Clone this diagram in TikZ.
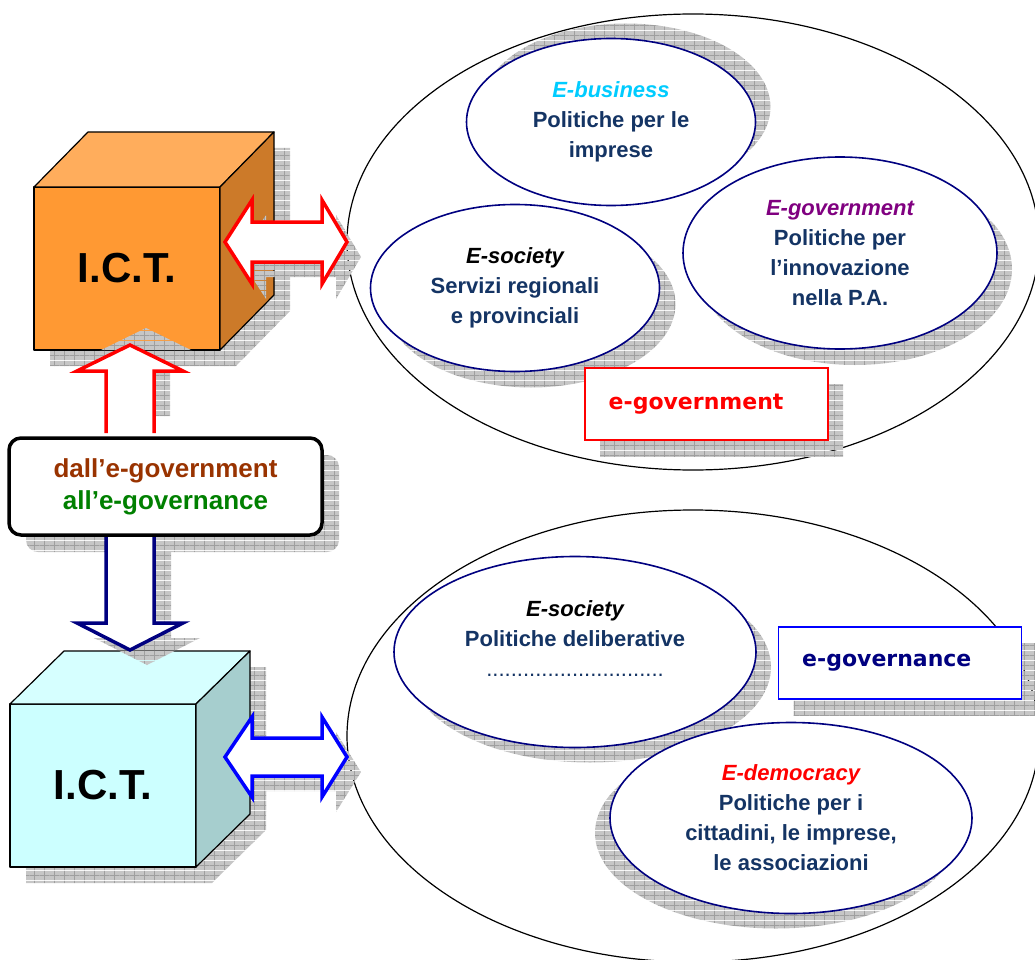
\documentclass[tikz,border=0pt]{standalone}
\usepackage{fontspec}
\setmainfont{Liberation Sans}
\newfontfamily\tagfont{DejaVu Sans}
\usetikzlibrary{shapes.geometric,shadows,patterns.meta}

\definecolor{ictorange}{RGB}{255,153,51}
\definecolor{ictorangetop}{RGB}{255,173,92}
\definecolor{ictorangeside}{RGB}{204,122,41}
\definecolor{ictcyan}{RGB}{204,255,255}
\definecolor{ictcyantop}{RGB}{214,255,255}
\definecolor{ictcyanside}{RGB}{166,206,206}
\definecolor{navy}{RGB}{0,0,128}
\definecolor{policyblue}{RGB}{20,52,100}
\definecolor{bizcyan}{RGB}{0,204,255}
\definecolor{govpurple}{RGB}{128,0,128}
\definecolor{govbrown}{RGB}{153,51,0}
\definecolor{govgreen}{RGB}{0,128,0}

\tikzdeclarepattern{
  name=shadowgrid,
  type=colored,
  bounding box={(0pt,0pt) and (10pt,10pt)},
  tile size={(10pt,10pt)},
  code={
    \fill[gray!45] (0pt,0pt) rectangle (10pt,10pt);
    \draw[gray!75, line width=0.8pt] (0pt,5pt) -- (10pt,5pt) (5pt,0pt) -- (5pt,10pt);
  }
}

\tikzset{
  gridshadow/.style 2 args={drop shadow={shadow xshift=#1, shadow yshift=#2, opacity=1, draw=none, pattern=shadowgrid}},
  cubeline/.style={draw, line width=1.2pt, line join=round},
  cubeface/.style={cubeline, rectangle, outer sep=0pt, minimum width=186pt, minimum height=163pt,
    font=\fontsize{42}{42}\selectfont\bfseries},
  area/.style={ellipse, draw, line width=1.2pt, outer sep=0pt, minimum width=692pt},
  policy/.style={ellipse, draw=navy, line width=1.6pt, fill=white, inner sep=0pt, align=center,
    text=policyblue, font=\fontsize{22}{30}\selectfont\bfseries},
  tagbox/.style={rectangle, line width=1.6pt, fill=white, minimum width=243pt, minimum height=72pt},
  tagtext/.style={anchor=west, font=\tagfont\fontsize{22}{26}\selectfont\bfseries},
  blockarrow/.style={line width=3.5pt, fill=white, line join=miter}
}

\begin{document}
\begin{tikzpicture}[x=1pt, y=-1pt]
  \useasboundingbox (0,0) rectangle (1035,960);
  \clip (0,0) rectangle (1035,960);

  % the two areas
  \node[area, minimum height=456pt] (govarea) at (693,242) {};
  \node[area, minimum height=452pt] (gvnarea) at (693,736) {};

  % e-government area
  \node[policy, minimum width=289pt, minimum height=167pt, gridshadow={15pt}{15pt}] (ebiz) at (611,122)
    {\textcolor{bizcyan}{\itshape E-business}\\ Politiche per le\\ imprese};
  \node[policy, minimum width=289pt, minimum height=167pt, gridshadow={16pt}{-16pt}] (esoc) at (515,288)
    {\textcolor{black}{\itshape E-society}\\ Servizi regionali\\ e provinciali};
  \node[policy, minimum width=314pt, minimum height=192pt, gridshadow={15pt}{-16pt}] (egovp) at (840,253)
    {\textcolor{govpurple}{\itshape E-government}\\ Politiche per\\ l'innovazione\\ nella P.A.};
  \node[tagbox, draw=red, gridshadow={15pt}{-16pt}] (egov) at (706.5,404) {};
  \node[tagtext, text=red] at ([xshift=21pt]egov.west) {e-government};

  % e-governance area
  \node[policy, minimum width=362pt, minimum height=191pt, gridshadow={15pt}{-15pt}] (esoc2) at (575,652)
    {\textcolor{black}{\itshape E-society}\\ Politiche deliberative\\ {\mdseries .............................}\\[-4pt] ~};
  \node[policy, minimum width=362pt, minimum height=191pt, gridshadow={-15pt}{-15pt}] (edem) at (791,818)
    {\textcolor{red}{\itshape E-democracy}\\ Politiche per i\\ cittadini, le imprese,\\ le associazioni};
  \node[tagbox, draw=blue, gridshadow={15pt}{-16pt}] (egovn) at (900,663) {};
  \node[tagtext, text=navy] at ([xshift=21pt]egovn.west) {e-governance};

  % top cube
  \coordinate (cube1) at (34,350);
  \path[gridshadow={16pt}{-16pt}] (cube1) -- ++(0,-163) -- ++(54,-55) -- ++(186,0) -- ++(0,163) -- ++(-54,55) -- cycle;
  \node[cubeface, fill=ictorange, anchor=south west] (ict1) at (cube1) {I.C.T.};
  \draw[cubeline, fill=ictorangetop] (ict1.north west) -- ++(54,-55) -- ++(186,0) -- (ict1.north east) -- cycle;
  \draw[cubeline, fill=ictorangeside] (ict1.north east) -- ++(54,-55) -- ++(0,163) -- (ict1.south east) -- cycle;

  % bottom cube
  \coordinate (cube2) at (10,867);
  \path[gridshadow={16pt}{-16pt}] (cube2) -- ++(0,-163) -- ++(54,-53) -- ++(186,0) -- ++(0,163) -- ++(-54,53) -- cycle;
  \node[cubeface, fill=ictcyan, anchor=south west] (ict2) at (cube2) {I.C.T.};
  \draw[cubeline, fill=ictcyantop] (ict2.north west) -- ++(54,-53) -- ++(186,0) -- (ict2.north east) -- cycle;
  \draw[cubeline, fill=ictcyanside] (ict2.north east) -- ++(54,-53) -- ++(0,163) -- (ict2.south east) -- cycle;

  % cubes to areas
  \draw[blockarrow, draw=red, gridshadow={14pt}{-15pt}] (govarea.west) -- ++(-25,-42) -- ++(0,22) -- ++(-70,0)
    -- ++(0,-22) -- ++(-27,42) -- ++(27,42) -- ++(0,-22) -- ++(70,0) -- ++(0,22) -- cycle;
  \draw[blockarrow, draw=blue, gridshadow={14pt}{-15pt}] ([yshift=-21pt]gvnarea.west) -- ++(-25,-40) -- ++(0,21) -- ++(-70,0)
    -- ++(0,-21) -- ++(-27,40) -- ++(27,40) -- ++(0,-21) -- ++(70,0) -- ++(0,21) -- cycle;

  % from e-government to e-governance
  \node[rectangle, draw, line width=3.5pt, rounded corners=12pt, fill=white, minimum width=313pt, minimum height=97pt,
    align=center, font=\fontsize{26}{32}\selectfont\bfseries, gridshadow={17pt}{-17pt}] (bridge) at (165.5,486.5)
    {\textcolor{govbrown}{dall'e-government}\\ \textcolor{govgreen}{all'e-governance}};
  \coordinate (up) at ([shift={(3,-5)}]ict1.south);
  \draw[blockarrow, draw=red, gridshadow={16pt}{17pt}] ([shift={(-24,88)}]up) -- ++(0,-62) -- ++(-29,0) -- (up)
    -- ++(53,26) -- ++(-29,0) -- ++(0,62);
  \coordinate (down) at (130,650);
  \draw[blockarrow, draw=navy, gridshadow={17pt}{-15pt}] ([shift={(-24,-113)}]down) -- ++(0,86) -- ++(-29,0) -- (down)
    -- ++(53,-27) -- ++(-29,0) -- ++(0,-86);
\end{tikzpicture}
\end{document}
